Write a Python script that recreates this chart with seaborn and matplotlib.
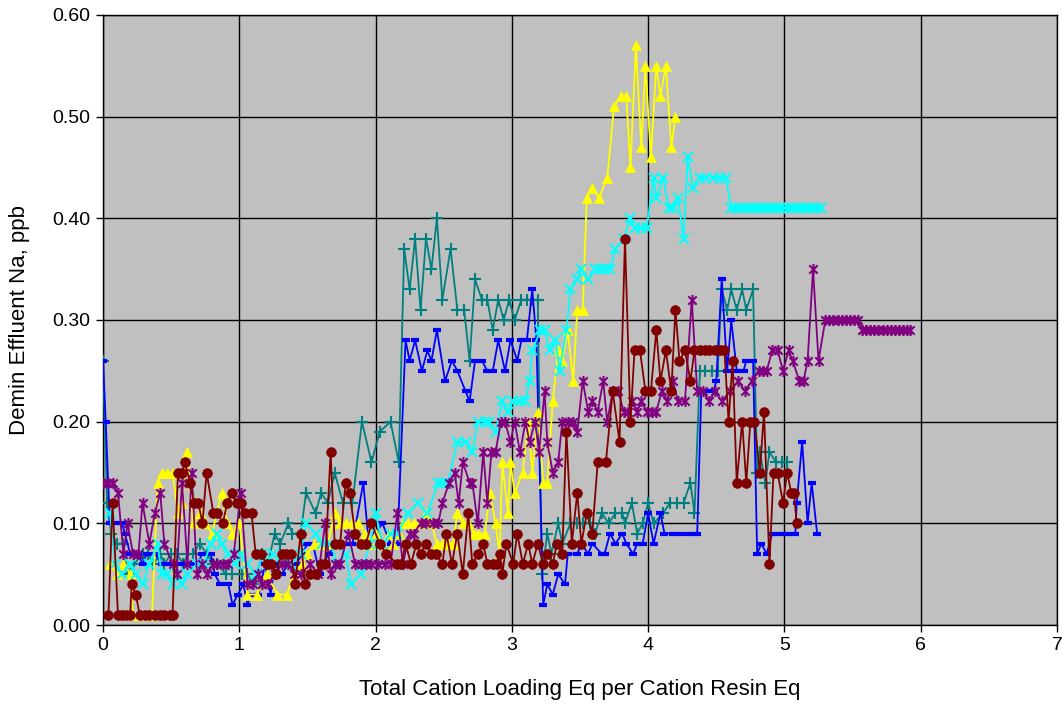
import numpy as np
import pandas as pd
import matplotlib
matplotlib.use("Agg")
import matplotlib.pyplot as plt
from matplotlib.path import Path
import seaborn as sns

# ---------------- data ----------------
blue_x = [0.00,0.02,0.05,0.10,0.14,0.16,0.20,0.26,0.29,0.32,
          0.38,0.43,0.49,0.55,0.60,0.65,0.69,0.73,0.79,0.82,
          0.86,0.92,0.95,0.99,1.03,1.06,1.09,1.14,1.19,1.23,
          1.26,1.31,1.36,1.42,1.46,1.50,1.54,1.59,1.61,1.66,
          1.70,1.78,1.83,1.91,1.95,2.00,2.05,2.11,2.16,2.22,
          2.25,2.29,2.34,2.38,2.41,2.45,2.51,2.56,2.60,2.66,
          2.69,2.73,2.78,2.82,2.86,2.90,2.95,2.99,3.04,3.07,
          3.11,3.15,3.18,3.23,3.26,3.30,3.34,3.39,3.41,3.48,
          3.51,3.56,3.59,3.66,3.68,3.72,3.76,3.81,3.84,3.89,
          3.92,3.96,4.00,4.04,4.09,4.12,4.18,4.23,4.28,4.33,
          4.36,4.39,4.44,4.48,4.50,4.54,4.58,4.61,4.65,4.70,
          4.72,4.77,4.80,4.83,4.87,4.91,4.95,5.00,5.04,5.08,
          5.09,5.13,5.17,5.20,5.24]
blue_y = [0.26,0.20,0.10,0.10,0.10,0.09,0.07,0.07,0.06,0.07,
          0.07,0.06,0.06,0.06,0.06,0.06,0.06,0.07,0.07,0.05,
          0.04,0.04,0.02,0.03,0.04,0.02,0.03,0.03,0.06,0.03,
          0.06,0.05,0.06,0.06,0.07,0.08,0.08,0.05,0.06,0.07,
          0.08,0.08,0.08,0.14,0.08,0.09,0.10,0.08,0.08,0.28,
          0.26,0.28,0.25,0.27,0.26,0.29,0.24,0.26,0.25,0.23,
          0.22,0.26,0.26,0.25,0.25,0.28,0.25,0.28,0.26,0.28,
          0.28,0.33,0.28,0.02,0.04,0.03,0.05,0.04,0.07,0.07,
          0.08,0.07,0.08,0.07,0.07,0.09,0.08,0.09,0.08,0.07,
          0.08,0.08,0.11,0.08,0.11,0.09,0.09,0.09,0.09,0.09,
          0.09,0.23,0.23,0.23,0.24,0.34,0.25,0.30,0.25,0.25,
          0.26,0.26,0.07,0.08,0.07,0.09,0.09,0.09,0.09,0.09,
          0.12,0.18,0.10,0.14,0.09]

teal_x = [0.00,0.03,0.06,0.10,0.15,0.18,0.23,0.29,0.33,0.37,
          0.42,0.45,0.50,0.54,0.59,0.62,0.66,0.71,0.76,0.81,
          0.84,0.90,0.95,1.02,1.06,1.10,1.17,1.21,1.26,1.30,
          1.36,1.39,1.45,1.49,1.56,1.60,1.65,1.70,1.76,1.83,
          1.90,1.97,2.03,2.11,2.17,2.21,2.25,2.29,2.33,2.37,
          2.41,2.45,2.49,2.55,2.60,2.65,2.69,2.73,2.78,2.82,
          2.86,2.90,2.94,2.98,3.02,3.07,3.11,3.15,3.19,3.22,
          3.26,3.29,3.34,3.37,3.43,3.48,3.52,3.57,3.61,3.66,
          3.71,3.76,3.81,3.83,3.88,3.92,3.96,4.00,4.04,4.11,
          4.16,4.21,4.26,4.31,4.34,4.38,4.42,4.47,4.51,4.54,
          4.58,4.61,4.65,4.69,4.72,4.77,4.80,4.82,4.86,4.89,
          4.94,4.98,5.02]
teal_y = [0.26,0.12,0.09,0.08,0.08,0.05,0.06,0.07,0.07,0.06,
          0.07,0.06,0.07,0.07,0.06,0.07,0.07,0.08,0.07,0.06,
          0.06,0.05,0.05,0.05,0.05,0.04,0.07,0.06,0.09,0.08,
          0.10,0.09,0.09,0.13,0.11,0.13,0.12,0.15,0.12,0.12,
          0.20,0.16,0.19,0.20,0.16,0.37,0.33,0.38,0.31,0.38,
          0.35,0.40,0.32,0.37,0.31,0.31,0.26,0.34,0.32,0.32,
          0.29,0.32,0.30,0.32,0.30,0.32,0.32,0.32,0.32,0.05,
          0.09,0.07,0.10,0.08,0.10,0.10,0.10,0.10,0.09,0.11,
          0.10,0.11,0.11,0.10,0.12,0.09,0.10,0.12,0.10,0.11,
          0.12,0.12,0.12,0.14,0.11,0.25,0.25,0.25,0.25,0.33,
          0.31,0.33,0.31,0.33,0.31,0.33,0.15,0.17,0.14,0.17,
          0.16,0.16,0.16]

yellow_x = [0.05,0.10,0.15,0.20,0.22,0.27,0.32,0.36,0.40,0.43,
            0.47,0.51,0.55,0.58,0.62,0.66,0.71,0.75,0.80,0.87,
            0.91,0.95,1.00,1.06,1.13,1.20,1.28,1.35,1.40,1.46,
            1.50,1.55,1.60,1.65,1.70,1.74,1.78,1.83,1.87,1.92,
            1.96,2.00,2.05,2.10,2.13,2.17,2.20,2.24,2.28,2.33,
            2.37,2.41,2.45,2.49,2.53,2.57,2.60,2.64,2.68,2.72,
            2.75,2.80,2.84,2.88,2.91,2.93,2.97,2.99,3.02,3.08,
            3.12,3.15,3.19,3.23,3.26,3.30,3.34,3.37,3.41,3.45,
            3.48,3.52,3.55,3.59,3.64,3.70,3.75,3.80,3.84,3.87,
            3.91,3.95,3.98,4.02,4.06,4.09,4.13,4.17,4.20]
yellow_y = [0.06,0.05,0.06,0.05,0.01,0.01,0.01,0.01,0.14,0.15,
            0.15,0.15,0.11,0.12,0.17,0.10,0.11,0.10,0.09,0.13,
            0.10,0.09,0.10,0.03,0.03,0.05,0.03,0.03,0.05,0.06,
            0.07,0.08,0.08,0.08,0.11,0.10,0.10,0.10,0.10,0.09,
            0.08,0.09,0.08,0.09,0.08,0.09,0.10,0.10,0.10,0.10,
            0.11,0.10,0.08,0.08,0.08,0.08,0.11,0.10,0.10,0.09,
            0.09,0.09,0.13,0.10,0.07,0.16,0.11,0.16,0.13,0.15,
            0.20,0.15,0.21,0.14,0.14,0.22,0.27,0.26,0.29,0.24,
            0.31,0.31,0.42,0.43,0.42,0.44,0.51,0.52,0.52,0.45,
            0.57,0.47,0.55,0.46,0.55,0.52,0.55,0.47,0.50]

cyan_x = [0.05,0.09,0.14,0.20,0.24,0.29,0.34,0.40,0.43,0.47,
          0.51,0.54,0.58,0.62,0.69,0.74,0.79,0.84,0.87,0.92,
          0.97,1.01,1.06,1.12,1.17,1.21,1.25,1.31,1.38,1.45,
          1.49,1.56,1.61,1.67,1.72,1.78,1.82,1.89,1.96,2.00,
          2.05,2.11,2.16,2.24,2.31,2.38,2.46,2.49,2.53,2.60,
          2.66,2.71,2.75,2.80,2.83,2.88,2.93,2.97,3.01,3.06,
          3.10,3.13,3.15,3.21,3.24,3.28,3.32,3.35,3.40,3.43,
          3.48,3.51,3.56,3.61,3.65,3.68,3.72,3.76,3.82,3.87,
          3.90,3.95,3.99,4.04,4.06,4.11,4.15,4.18,4.22,4.26,
          4.29,4.33,4.38,4.42,4.48,4.53,4.57,4.61,4.64,4.67,
          4.70,4.73,4.76,4.79,4.82,4.85,4.88,4.91,4.94,4.97,
          5.00,5.03,5.06,5.09,5.12,5.15,5.18,5.21,5.24,5.27]
cyan_y = [0.11,0.06,0.05,0.06,0.05,0.04,0.06,0.08,0.05,0.05,
          0.04,0.05,0.04,0.05,0.06,0.06,0.08,0.09,0.08,0.07,
          0.06,0.07,0.06,0.05,0.07,0.06,0.07,0.06,0.06,0.07,
          0.10,0.09,0.08,0.08,0.06,0.07,0.04,0.05,0.08,0.11,
          0.08,0.09,0.09,0.11,0.12,0.11,0.14,0.14,0.14,0.18,
          0.18,0.17,0.20,0.20,0.20,0.19,0.22,0.21,0.22,0.22,
          0.22,0.24,0.27,0.29,0.29,0.27,0.28,0.25,0.29,0.33,
          0.34,0.35,0.34,0.35,0.35,0.35,0.35,0.37,0.38,0.40,
          0.39,0.39,0.39,0.44,0.42,0.44,0.41,0.41,0.42,0.38,
          0.46,0.43,0.44,0.44,0.44,0.44,0.44,0.41,0.41,0.41,
          0.41,0.41,0.41,0.41,0.41,0.41,0.41,0.41,0.41,0.41,
          0.41,0.41,0.41,0.41,0.41,0.41,0.41,0.41,0.41,0.41]

maroon_x = [0.04,0.07,0.11,0.14,0.17,0.20,0.21,0.24,0.27,0.31,
            0.34,0.38,0.42,0.45,0.49,0.51,0.55,0.58,0.60,0.64,
            0.67,0.70,0.73,0.76,0.81,0.84,0.88,0.91,0.95,0.98,
            1.01,1.04,1.09,1.12,1.16,1.20,1.23,1.27,1.31,1.34,
            1.38,1.41,1.45,1.48,1.52,1.56,1.60,1.63,1.67,1.70,
            1.74,1.78,1.81,1.85,1.89,1.93,1.97,2.03,2.08,2.16,
            2.19,2.22,2.26,2.30,2.33,2.37,2.41,2.44,2.49,2.52,
            2.56,2.60,2.64,2.68,2.71,2.75,2.79,2.82,2.86,2.89,
            2.91,2.93,2.96,3.01,3.04,3.08,3.12,3.15,3.19,3.23,
            3.26,3.30,3.33,3.37,3.40,3.44,3.48,3.51,3.55,3.59,
            3.63,3.69,3.74,3.79,3.83,3.87,3.90,3.94,3.98,4.02,
            4.06,4.09,4.13,4.17,4.20,4.23,4.27,4.31,4.34,4.38,
            4.42,4.45,4.49,4.53,4.56,4.59,4.62,4.65,4.69,4.72,
            4.75,4.78,4.82,4.85,4.89,4.92,4.95,4.99,5.02,5.05,
            5.07,5.09]
maroon_y = [0.01,0.12,0.01,0.01,0.01,0.01,0.04,0.03,0.01,0.01,
            0.01,0.01,0.01,0.01,0.01,0.01,0.15,0.15,0.16,0.14,
            0.12,0.12,0.10,0.15,0.11,0.11,0.10,0.12,0.13,0.12,
            0.12,0.11,0.11,0.07,0.07,0.06,0.06,0.05,0.07,0.07,
            0.07,0.04,0.09,0.04,0.05,0.05,0.06,0.06,0.17,0.08,
            0.08,0.14,0.13,0.09,0.08,0.08,0.10,0.08,0.07,0.06,
            0.06,0.08,0.06,0.08,0.07,0.08,0.07,0.07,0.06,0.09,
            0.06,0.09,0.05,0.11,0.06,0.07,0.08,0.06,0.06,0.06,
            0.07,0.05,0.08,0.06,0.09,0.06,0.08,0.06,0.08,0.06,
            0.07,0.06,0.08,0.07,0.19,0.08,0.13,0.08,0.11,0.09,
            0.16,0.16,0.23,0.18,0.38,0.20,0.27,0.27,0.23,0.23,
            0.29,0.24,0.27,0.23,0.31,0.26,0.27,0.24,0.27,0.27,
            0.27,0.27,0.27,0.27,0.27,0.20,0.26,0.14,0.20,0.14,
            0.20,0.20,0.15,0.21,0.06,0.15,0.15,0.12,0.15,0.13,
            0.13,0.10]

purple_x = [0.00,0.04,0.07,0.11,0.15,0.18,0.22,0.26,0.29,0.34,
            0.38,0.42,0.45,0.51,0.54,0.58,0.62,0.65,0.69,0.73,
            0.76,0.81,0.84,0.88,0.92,0.96,1.01,1.06,1.10,1.14,
            1.17,1.21,1.26,1.31,1.36,1.40,1.45,1.52,1.58,1.63,
            1.67,1.70,1.74,1.80,1.85,1.89,1.93,1.97,2.02,2.07,
            2.11,2.16,2.20,2.25,2.28,2.33,2.37,2.42,2.46,2.49,
            2.54,2.58,2.61,2.64,2.69,2.71,2.75,2.79,2.82,2.85,
            2.88,2.92,2.95,2.99,3.02,3.06,3.10,3.13,3.17,3.20,
            3.24,3.26,3.30,3.34,3.37,3.41,3.45,3.48,3.52,3.56,
            3.59,3.63,3.67,3.70,3.74,3.78,3.82,3.85,3.88,3.92,
            3.95,3.99,4.03,4.06,4.10,4.14,4.18,4.22,4.27,4.32,
            4.36,4.40,4.45,4.49,4.54,4.60,4.66,4.71,4.76,4.81,
            4.84,4.87,4.91,4.95,4.99,5.03,5.06,5.11,5.14,5.17,
            5.21,5.25,5.30,5.33,5.36,5.39,5.42,5.45,5.48,5.51,
            5.54,5.57,5.60,5.63,5.66,5.69,5.72,5.75,5.78,5.81,
            5.84,5.87,5.90,5.92]
purple_y = [0.14,0.14,0.14,0.13,0.07,0.10,0.07,0.07,0.12,0.08,
            0.11,0.13,0.08,0.06,0.05,0.14,0.06,0.15,0.05,0.06,
            0.05,0.06,0.06,0.06,0.06,0.07,0.13,0.04,0.04,0.05,
            0.04,0.04,0.05,0.06,0.06,0.05,0.05,0.06,0.05,0.10,
            0.05,0.06,0.06,0.09,0.06,0.06,0.06,0.06,0.06,0.06,
            0.06,0.11,0.06,0.09,0.09,0.10,0.10,0.10,0.10,0.12,
            0.14,0.15,0.12,0.16,0.14,0.14,0.10,0.17,0.12,0.17,
            0.17,0.20,0.20,0.18,0.20,0.17,0.20,0.18,0.20,0.17,
            0.23,0.18,0.15,0.16,0.20,0.20,0.20,0.19,0.24,0.21,
            0.22,0.21,0.24,0.20,0.23,0.23,0.21,0.21,0.22,0.21,
            0.22,0.21,0.21,0.21,0.23,0.22,0.24,0.22,0.22,0.32,
            0.23,0.23,0.22,0.23,0.22,0.23,0.24,0.23,0.24,0.25,
            0.25,0.25,0.27,0.27,0.25,0.27,0.26,0.24,0.24,0.26,
            0.35,0.26,0.30,0.30,0.30,0.30,0.30,0.30,0.30,0.30,
            0.30,0.29,0.29,0.29,0.29,0.29,0.29,0.29,0.29,0.29,
            0.29,0.29,0.29,0.29]

x_ticks = [0, 1, 2, 3, 4, 5, 6, 7]
y_ticks = [0.0, 0.1, 0.2, 0.3, 0.4, 0.5, 0.6]
x_label = "Total Cation Loading Eq per Cation Resin Eq"
y_label = "Demin Effluent Na, ppb"

# ---------------- styling ----------------
sns.set_theme(style="white")
plt.rcParams["font.family"] = ["Liberation Sans", "DejaVu Sans"]

star = Path([(0, -1), (0, 1), (-0.75, -0.75), (0.75, 0.75), (-0.75, 0.75), (0.75, -0.75)],
            [Path.MOVETO, Path.LINETO, Path.MOVETO, Path.LINETO, Path.MOVETO, Path.LINETO])

series = [
    # name, x, y, color, marker, markersize, mew, filled
    ("teal", teal_x, teal_y, "#008080", "+", 9, 1.5, False),
    ("blue", blue_x, blue_y, "#0000FF", "_", 6, 3.0, False),
    ("yellow", yellow_x, yellow_y, "#FFFF00", "^", 7, 0.5, True),
    ("cyan", cyan_x, cyan_y, "#00FFFF", "x", 7, 1.5, False),
    ("purple", purple_x, purple_y, "#800080", star, 8, 1.5, False),
    ("maroon", maroon_x, maroon_y, "#800000", "o", 7, 0.5, True),
]

fig = plt.figure(figsize=(10.62, 7.12), dpi=100)
ax = fig.add_axes([103 / 1062, 1 - 625 / 712, (1057 - 103) / 1062, (625 - 15) / 712])
ax.set_facecolor("#C0C0C0")

for i, (name, xs, ys, col, mk, ms, mew, filled) in enumerate(series):
    assert len(xs) == len(ys), name
    df = pd.DataFrame({"x": xs, "y": ys})
    sns.lineplot(data=df, x="x", y="y", ax=ax, sort=False, estimator=None,
                 color=col, linewidth=1.3, marker=mk, markersize=ms,
                 markeredgecolor=col, markerfacecolor=col if filled else "none",
                 markeredgewidth=mew, zorder=3 + i)

ax.set_xlim(0, 7)
ax.set_ylim(0, 0.6)
ax.set_xticks(x_ticks)
ax.set_xticklabels([str(t) for t in x_ticks])
ax.set_yticks(y_ticks)
ax.set_yticklabels([f"{t:.2f}" for t in y_ticks])
ax.grid(True, color="black", linewidth=1.0)
ax.set_axisbelow(True)
for s in ax.spines.values():
    s.set_color("black")
    s.set_linewidth(1.0)
ax.tick_params(axis="both", direction="out", length=5, width=1, color="black",
               labelsize=14, labelcolor="black", pad=4)
ax.tick_params(axis="both", which="both", bottom=True, left=True)
ax.set_xlabel(x_label, fontsize=16, color="black", labelpad=18)
ax.set_ylabel(y_label, fontsize=16, color="black", labelpad=16)

fig.savefig("out.png", dpi=100, facecolor="white")
